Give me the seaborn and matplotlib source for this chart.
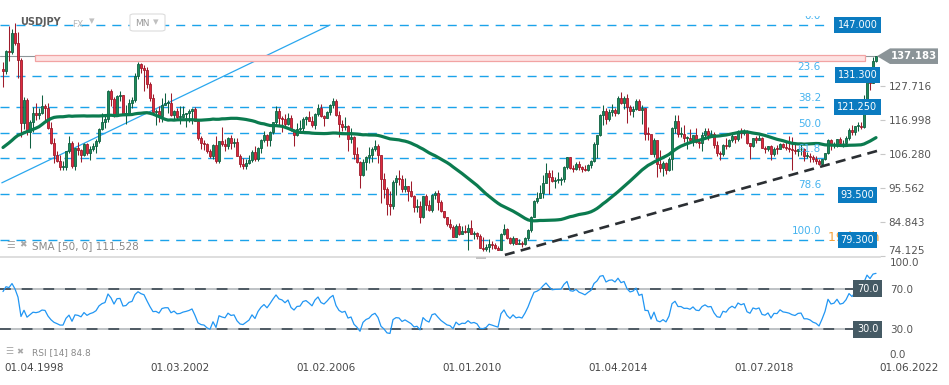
import numpy as np
import pandas as pd
import seaborn as sns
import matplotlib
matplotlib.use("Agg")
from matplotlib import pyplot as plt
from matplotlib import transforms as mtrans
from matplotlib.patches import Rectangle, Polygon, FancyBboxPatch


W, H = 949, 385

# monthly USDJPY closes Mar 1994 - Mar 1998 (only used to warm up SMA / RSI)
pre_closes = [
    102.7, 101.9, 104.6, 98.5, 100.1, 100.0, 98.6, 97.1, 98.9, 99.7,
    99.5, 96.9, 86.6, 83.9, 83.1, 84.6, 88.4, 97.4, 99.0, 101.9, 101.8, 103.5,
    107.1, 104.9, 106.5, 104.8, 108.6, 109.7, 106.8, 108.6, 111.4, 114.1, 113.7, 116.0,
    121.3, 120.6, 124.0, 126.8, 116.4, 114.6, 118.4, 120.8, 120.7, 120.3, 127.9, 130.5,
    126.8, 126.0, 133.3,
]

# visible candles Apr 1998 - Jul 2022
closes = [
    132.4, 138.9, 138.4, 144.6, 141.4, 135.9, 116.2, 123.3, 113.3,
    116.3, 119.2, 118.6, 119.4, 121.4, 121.0, 114.6, 109.8, 106.2, 104.3, 102.2, 102.2,
    107.3, 109.9, 102.6, 108.2, 107.6, 106.0, 109.6, 106.7, 108.1, 108.9, 110.4, 114.4,
    116.4, 117.4, 126.3, 123.6, 118.9, 124.7, 125.0, 118.9, 119.4, 122.5, 123.4, 131.0,
    134.7, 133.4, 132.7, 128.5, 124.0, 119.6, 119.8, 118.3, 121.9, 122.5, 122.5, 118.8,
    119.9, 117.9, 118.1, 118.9, 119.3, 119.8, 120.6, 116.9, 111.5, 110.0, 109.6, 107.2,
    105.9, 109.1, 104.2, 110.4, 109.4, 108.8, 111.4, 109.8, 110.1, 105.8, 103.1, 102.6,
    103.6, 104.6, 107.1, 104.7, 108.3, 110.8, 112.5, 110.7, 113.3, 116.5, 119.8, 117.8,
    117.3, 115.9, 117.7, 113.8, 112.3, 114.4, 114.6, 117.4, 118.0, 116.9, 115.6, 119.0,
    121.0, 118.5, 117.8, 119.5, 121.7, 123.2, 118.6, 115.9, 114.8, 115.3, 111.2, 111.7,
    106.4, 103.8, 99.7, 104.0, 105.5, 106.2, 108.0, 108.8, 106.0, 98.5, 95.5, 90.6,
    89.9, 97.6, 98.9, 98.6, 95.4, 96.3, 94.7, 93.0, 89.8, 90.1, 86.4, 93.0,
    90.3, 88.9, 93.4, 94.0, 91.2, 88.4, 86.4, 84.2, 83.5, 80.4, 83.7, 81.2,
    82.0, 81.8, 83.1, 81.2, 81.5, 80.5, 76.8, 76.6, 77.0, 78.2, 77.6, 76.9,
    76.3, 81.2, 82.9, 80.0, 78.3, 79.8, 78.1, 78.4, 77.9, 79.8, 82.5, 86.7,
    91.7, 92.6, 94.2, 97.4, 100.5, 99.1, 97.9, 98.2, 98.3, 98.4, 102.4, 105.3,
    102.0, 101.8, 103.2, 102.2, 101.8, 101.3, 102.8, 104.1, 109.6, 112.3, 118.7, 119.8,
    117.5, 119.6, 120.1, 119.4, 124.1, 122.5, 123.9, 121.2, 119.9, 120.6, 123.1, 120.2,
    121.0, 112.7, 112.6, 106.5, 110.7, 103.2, 102.1, 103.4, 101.3, 104.8, 114.5, 116.9,
    112.8, 112.8, 111.4, 111.5, 110.8, 112.4, 110.3, 110.0, 112.5, 113.6, 112.5, 112.7,
    109.2, 106.7, 106.3, 109.3, 108.8, 110.8, 111.9, 111.0, 113.7, 112.9, 113.5, 109.7,
    108.9, 111.4, 110.9, 111.4, 108.3, 107.9, 108.8, 106.3, 108.1, 108.0, 109.5, 108.6,
    108.4, 108.1, 107.5, 107.2, 107.8, 107.9, 105.9, 105.9, 105.5, 104.7, 104.3, 103.3,
    104.7, 106.6, 110.7, 109.3, 109.6, 111.1, 109.7, 110.0, 111.3, 114.0, 113.2, 115.1,
    115.1, 115.0, 121.7, 129.8, 128.7, 135.7, 137.183,
]
highs = [
    135.2, 139.2, 146.8, 145.8, 147.6, 144.8, 136.6, 124.3, 123.9,
    117.0, 121.3, 122.4, 121.0, 124.9, 122.1, 122.4, 116.4, 111.4, 107.2, 106.2, 104.3,
    107.4, 112.2, 110.4, 108.3, 110.2, 108.0, 110.0, 110.0, 108.9, 109.7, 111.0, 114.6,
    119.3, 118.8, 126.5, 126.8, 124.2, 124.9, 126.2, 125.0, 121.9, 123.7, 124.4, 131.8,
    135.2, 135.0, 134.5, 133.9, 128.9, 125.2, 120.4, 121.5, 123.9, 125.6, 123.4, 125.7,
    120.3, 121.0, 121.4, 121.4, 119.4, 120.6, 120.8, 121.3, 117.5, 112.0, 110.9, 110.0,
    107.8, 109.6, 112.2, 110.6, 114.9, 111.1, 111.7, 112.3, 111.5, 111.5, 106.4, 105.0,
    104.8, 106.0, 107.6, 108.8, 108.5, 111.2, 113.7, 112.8, 113.5, 116.6, 121.4, 121.0,
    118.2, 119.0, 119.4, 118.7, 114.1, 116.0, 117.1, 117.9, 118.3, 119.9, 118.5, 119.3,
    122.2, 122.0, 118.8, 120.0, 122.2, 124.1, 123.6, 119.8, 117.1, 117.9, 115.4, 114.7,
    112.1, 108.6, 104.2, 104.9, 105.6, 108.6, 108.6, 110.7, 109.4, 106.0, 100.5, 96.0,
    94.6, 98.2, 99.7, 101.4, 99.7, 98.9, 96.2, 97.8, 93.4, 92.3, 91.5, 93.2,
    93.8, 91.8, 93.8, 94.8, 94.9, 92.0, 88.5, 86.6, 85.9, 83.9, 84.4, 84.5,
    83.7, 84.0, 84.2, 85.5, 82.2, 81.7, 81.2, 80.2, 77.9, 79.5, 79.0, 78.3,
    77.3, 81.4, 84.2, 83.0, 80.4, 80.6, 80.0, 79.6, 78.9, 80.3, 82.8, 86.8,
    91.8, 94.5, 96.7, 99.9, 103.7, 101.5, 101.5, 99.1, 100.6, 99.0, 102.6, 105.4,
    105.4, 102.8, 103.8, 104.1, 102.7, 102.8, 103.1, 104.5, 110.1, 112.5, 119.0, 121.8,
    120.8, 120.5, 122.0, 120.8, 124.5, 125.9, 124.6, 125.3, 121.8, 121.5, 123.8, 123.7,
    121.7, 121.0, 114.9, 112.0, 111.5, 110.5, 107.5, 104.3, 104.0, 105.5, 114.8, 118.7,
    118.6, 114.9, 115.5, 112.2, 114.4, 112.4, 114.5, 111.1, 113.3, 114.5, 114.7, 113.8,
    113.4, 110.5, 107.3, 109.6, 111.4, 111.0, 113.2, 112.2, 113.8, 114.6, 114.2, 113.8,
    109.9, 111.5, 112.1, 112.4, 111.7, 108.8, 109.0, 109.3, 108.5, 109.3, 109.7, 109.7,
    110.3, 112.2, 111.7, 109.4, 108.1, 109.9, 108.2, 107.0, 106.6, 106.1, 105.7, 104.8,
    104.9, 106.7, 111.0, 111.0, 110.2, 111.1, 111.7, 110.8, 112.1, 114.7, 115.5, 115.2,
    116.4, 116.3, 125.1, 131.3, 131.3, 137.0, 137.3,
]
lows = [
    127.5, 131.5, 135.8, 137.9, 140.6, 130.3, 111.6, 114.2, 112.5,
    108.3, 113.3, 117.0, 117.5, 119.0, 116.8, 114.3, 109.6, 103.7, 104.0, 101.3, 101.2,
    101.4, 106.6, 102.1, 101.4, 106.2, 103.9, 105.6, 106.1, 104.6, 107.3, 106.7, 109.9,
    114.0, 114.5, 116.5, 121.4, 118.0, 118.4, 123.1, 118.7, 115.9, 119.0, 120.9, 122.7,
    130.0, 131.9, 126.3, 127.2, 123.1, 118.6, 115.5, 116.5, 116.4, 121.7, 119.2, 118.5,
    117.2, 117.2, 115.9, 117.6, 115.0, 116.6, 115.9, 116.7, 110.9, 107.9, 107.5, 106.8,
    105.2, 104.9, 103.4, 103.7, 108.8, 107.2, 107.8, 108.0, 108.6, 105.6, 102.2, 101.8,
    101.7, 103.1, 103.8, 104.2, 104.3, 106.6, 110.1, 108.9, 109.0, 112.8, 115.2, 115.6,
    113.4, 115.2, 115.6, 113.6, 108.9, 111.9, 113.5, 113.6, 115.5, 116.7, 114.9, 114.4,
    118.4, 117.9, 115.2, 117.6, 118.7, 121.0, 118.4, 111.6, 113.6, 113.8, 107.2, 109.9,
    104.9, 103.4, 95.7, 99.3, 101.4, 103.5, 103.8, 107.3, 103.5, 90.9, 92.5, 87.1,
    87.1, 89.2, 93.5, 96.6, 94.5, 94.5, 91.7, 92.7, 88.2, 88.0, 84.8, 86.3,
    88.6, 88.3, 88.2, 92.1, 88.6, 88.1, 86.2, 83.6, 82.9, 80.2, 80.3, 80.9,
    81.4, 81.6, 76.3, 81.1, 79.6, 79.7, 76.8, 75.9, 75.9, 75.6, 76.6, 76.6,
    76.0, 76.1, 80.9, 79.6, 78.0, 77.7, 77.9, 78.0, 77.1, 77.7, 79.3, 81.7,
    86.5, 90.8, 92.6, 92.6, 97.3, 93.8, 97.6, 95.8, 97.1, 96.6, 97.6, 101.6,
    101.8, 100.8, 101.2, 101.4, 100.8, 101.1, 101.1, 102.0, 104.0, 105.2, 112.0, 115.6,
    115.9, 116.9, 118.3, 118.5, 118.9, 122.0, 120.4, 116.2, 118.6, 118.1, 120.2, 120.1,
    115.9, 110.9, 110.7, 106.3, 105.5, 99.0, 100.7, 99.5, 100.1, 100.9, 101.2, 112.9,
    111.6, 111.7, 110.1, 108.1, 110.2, 108.8, 110.0, 108.3, 107.3, 111.7, 110.8, 111.9,
    108.3, 105.6, 104.6, 105.7, 108.1, 108.7, 110.3, 109.8, 110.4, 111.4, 112.3, 109.6,
    104.7, 108.5, 109.7, 110.8, 108.3, 106.8, 107.2, 104.5, 105.7, 106.5, 108.2, 108.4,
    107.7, 107.0, 101.2, 106.4, 105.9, 106.1, 104.2, 105.1, 104.0, 104.0, 103.2, 102.9,
    102.6, 104.4, 106.4, 107.5, 108.3, 108.6, 109.1, 108.7, 109.1, 110.8, 112.5, 112.5,
    113.5, 114.2, 114.7, 121.3, 126.4, 128.7, 135.5,
]

fib_top, fib_bottom = 147.0, 79.3
fib_levels = [0.0, 23.6, 38.2, 50.0, 61.8, 78.6, 100.0]
level_boxes = [147.000, 131.300, 121.250, 93.500, 79.300]
price_ticks = [127.716, 116.998, 106.280, 95.562, 84.843, 74.125]
last_price = 137.183
zone_low, zone_high = 135.67, 137.40          # pink resistance zone
zone_start, zone_end = 10.7, 287.3            # candle index
blue_line_idx, blue_line_price = [-0.4, 109.0], [97.3, 147.0]
trend_idx, trend_price = [167.3, 292.3], [74.6, 107.6]
rsi_levels = [70.0, 30.0]
rsi_ticks = [100.0, 70.0, 30.0, 0.0]
date_labels = ["01.04.1998", "01.03.2002", "01.02.2006", "01.01.2010",
               "01.04.2014", "01.07.2018", "01.06.2022"]

GREEN, GREEN_EDGE = "#1c8c5b", "#0f6041"
RED, RED_EDGE = "#de2a3e", "#9e1b2b"
FIB_C = "#1ba3ea"
SMA_C = "#0b7b4f"
BOX_C = "#0b7bc0"


def fx(px):
    return px / W


def fy(py):
    return 1 - py / H


def main():
    sns.set_theme(style="white")
    plt.rcParams["font.family"] = ["DejaVu Sans"]

    opens = [pre_closes[-1]] + closes[:-1]
    df = pd.DataFrame({"open": opens, "close": closes, "high": highs, "low": lows})
    df["idx"] = np.arange(len(df))
    allc = pd.Series(pre_closes + closes)
    df["sma"] = allc.rolling(50).mean().iloc[len(pre_closes):].to_numpy()
    delta = allc.diff()
    gain = delta.clip(lower=0).ewm(alpha=1 / 14, adjust=False).mean()
    loss = (-delta.clip(upper=0)).ewm(alpha=1 / 14, adjust=False).mean()
    rsi = 100 - 100 / (1 + gain / loss)
    df["rsi"] = rsi.iloc[len(pre_closes):].to_numpy()

    fig = plt.figure(figsize=(W / 100, H / 100), dpi=100)
    ax = fig.add_axes([0, fy(257), 880 / W, 257 / H])
    ax_r = fig.add_axes([0, fy(360), 880 / W, 102 / H])
    xlim = (-1, 292.33)
    ylo, yhi = 73.95, 154.87
    ax.set_xlim(*xlim)
    ax.set_ylim(ylo, yhi)

    def ppx(price):
        return 257 - (price - ylo) * 257 / (yhi - ylo)

    # fibonacci retracement lines
    fib_prices = [fib_top - f / 100 * (fib_top - fib_bottom) for f in fib_levels]
    fib_end = 275
    for p in fib_prices:
        ax.plot([-1, fib_end], [p, p], color=FIB_C, lw=1.0, dashes=(6.5, 5), zorder=1)

    ax.axhline(last_price, color="#8c9599", lw=0.8, zorder=2)
    ax.add_patch(Rectangle((zone_start, zone_low), zone_end - zone_start, zone_high - zone_low,
                           fc="#fde2e2", ec="#f2a3a3", lw=0.9, zorder=2.5))
    ax.plot(blue_line_idx, blue_line_price, color="#2aa7ee", lw=0.9, zorder=2)

    # candles
    up = df["close"] >= df["open"]
    for mask, face, edge in [(up, GREEN, GREEN_EDGE), (~up, RED, RED_EDGE)]:
        d = df[mask]
        ax.vlines(d["idx"], d["low"], d["high"], color=edge, lw=0.75, zorder=3)
        ax.bar(d["idx"], (d["close"] - d["open"]).abs().clip(lower=0.3),
               bottom=np.minimum(d["open"], d["close"]), width=0.88,
               color=face, edgecolor=edge, linewidth=0.6, zorder=4)

    sns.lineplot(x=df["idx"], y=df["sma"], ax=ax, color=SMA_C, lw=2.3, zorder=5)
    ax.plot(trend_idx, trend_price, color="#2b2f33", lw=1.9, dashes=(3.8, 2.4), zorder=6)

    for s in ["top", "left", "right"]:
        ax.spines[s].set_visible(False)
    ax.spines["bottom"].set_color("#d8d8d8")
    ax.spines["bottom"].set_linewidth(1.2)
    ax.set_xticks([])
    ax.set_xlabel("")
    ax.set_ylabel("")
    ax.yaxis.tick_right()
    ax.set_yticks(price_ticks, labels=[f"{v:.3f}" for v in price_ticks])
    ax.tick_params(axis="y", length=3.6, width=0.8, color="#c8c8c8", labelsize=7.5,
                   labelcolor="#555555", pad=2.4, right=True)
    ax.get_yticklabels()[-1].set_va("bottom")

    # fib labels
    tr = mtrans.blended_transform_factory(fig.transFigure, ax.transData)
    tr_up = mtrans.offset_copy(tr, fig=fig, y=9, units="dots")
    for f, p in zip(fib_levels, fib_prices):
        ax.text(fx(821), p, f"{f:.1f}", transform=tr_up, ha="right", va="center",
                fontsize=7.5, color="#45b3ef", zorder=7)
    # top of the "0.0" label is cut off in the original
    fig.patches.append(Rectangle((fx(790), fy(15.5)), 45 / W, 15.5 / H,
                                 transform=fig.transFigure, fc="white", ec="none", zorder=1))

    ax.text(fx(828), fib_bottom, "19d 10h", transform=mtrans.offset_copy(tr, fig=fig, y=3, units="dots"),
            ha="left", va="center", fontsize=9, color="#f6a23a", zorder=8, clip_on=False)
    for v in level_boxes:
        ax.text(fx(857.5), v, f"{v:.3f}", transform=tr, ha="center", va="center",
                fontsize=7, color="white", zorder=9, clip_on=False,
                bbox=dict(boxstyle="square,pad=0.32", fc=BOX_C, ec="none"))

    # last price marker
    yp = ppx(last_price)
    poly = [(877, yp), (890, yp - 7.8), (938, yp - 7.8), (938, yp + 7.8), (890, yp + 7.8)]
    fig.patches.append(Polygon([(fx(a), fy(b)) for a, b in poly], closed=True,
                               transform=fig.transFigure, fc="#8b9498", ec="none", zorder=2))
    fig.text(fx(913.5), fy(yp), f"{last_price:.3f}", ha="center", va="center",
             fontsize=7.3, fontweight="bold", color="white", zorder=4)

    # header
    fig.text(fx(20), fy(22), "USDJPY", fontsize=7, fontweight="bold", color="#5c5c5c",
             ha="left", va="center")
    fig.text(fx(72), fy(24.5), "FX", fontsize=6.5, color="#b8b8b8", ha="left", va="center")
    fig.text(fx(89), fy(21.5), "▾", fontsize=8, color="#c0c0c0", ha="left", va="center")
    fig.patches.append(FancyBboxPatch((fx(130), fy(31)), 35 / W, 17 / H,
                                      boxstyle="round,pad=0,rounding_size=0.004",
                                      transform=fig.transFigure, fc="white", ec="#dcdcdc",
                                      lw=0.8, zorder=2))
    fig.text(fx(135), fy(23.5), "MN", fontsize=6.5, color="#9a9a9a", ha="left", va="center")
    fig.text(fx(153), fy(22), "▾", fontsize=8, color="#c0c0c0", ha="left", va="center")

    fig.text(fx(6), fy(245), "☰", fontsize=7, color="#a8a8a8", ha="left", va="center")
    fig.text(fx(19), fy(245), "✖", fontsize=6.5, color="#a8a8a8", ha="left", va="center")
    fig.text(fx(32), fy(246), "SMA [50, 0] 111.528", fontsize=7.5, color="#8a8a8a",
             ha="left", va="center")
    fig.patches.append(Rectangle((fx(476), fy(259)), 10 / W, 2.5 / H, transform=fig.transFigure,
                                 fc="#c4c4c4", ec="none", zorder=2))

    # RSI panel
    ax_r.set_xlim(*xlim)
    ax_r.set_ylim(0, 100)
    for lv in rsi_levels:
        ax_r.plot([-1, 284], [lv, lv], color="#b9bdc0", lw=1.3, zorder=1)
        ax_r.plot([-1, 284], [lv, lv], color="#46525b", lw=1.3, dashes=(6, 6), zorder=2)
    sns.lineplot(x=df["idx"], y=df["rsi"], ax=ax_r, color="#2196f3", lw=0.9, zorder=3)
    for s in ["top", "left", "right", "bottom"]:
        ax_r.spines[s].set_visible(False)
    ax_r.set_xlabel("")
    ax_r.set_ylabel("")
    tick_px = [4, 150, 296, 442, 588, 734, 879]
    ax_r.set_xticks([p / 3 - 1 for p in tick_px], labels=date_labels)
    for lab in ax_r.get_xticklabels():
        lab.set_ha("left")
    ax_r.tick_params(axis="x", length=0, labelsize=7.5, labelcolor="#474747", pad=2)
    ax_r.yaxis.tick_right()
    ax_r.set_yticks(rsi_ticks, labels=[f"{v:.1f}" for v in rsi_ticks])
    ax_r.tick_params(axis="y", length=0, labelsize=7.5, labelcolor="#555555", pad=7)
    ylabs = ax_r.get_yticklabels()
    ylabs[0].set_va("top")
    ylabs[-1].set_va("bottom")
    trr = mtrans.blended_transform_factory(fig.transFigure, ax_r.transData)
    for lv in rsi_levels:
        ax_r.text(fx(867.5), lv, f"{lv:.1f}", transform=trr, ha="center", va="center",
                  fontsize=7, color="white", zorder=9, clip_on=False,
                  bbox=dict(boxstyle="square,pad=0.35", fc="#455a64", ec="none"))

    fig.text(fx(5), fy(352), "☰", fontsize=6.5, color="#a8a8a8", ha="left", va="center")
    fig.text(fx(16), fy(352), "✖", fontsize=6, color="#a8a8a8", ha="left", va="center")
    fig.text(fx(32), fy(353), "RSI [14] 84.8", fontsize=6.5, color="#8a8a8a",
             ha="left", va="center")

    fig.savefig("out.png", dpi=100)


if __name__ == "__main__":
    main()
